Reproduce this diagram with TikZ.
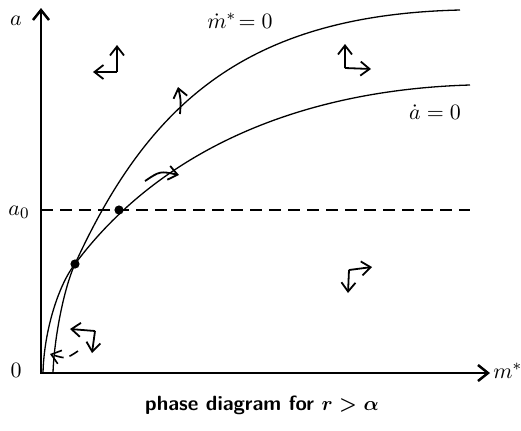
\documentclass[tikz,border=0pt]{standalone}
\usetikzlibrary{arrows.meta}

\begin{document}
\begin{tikzpicture}[
    x=0.5pt,
    y=-0.5pt,
    font=\fontsize{11}{13}\selectfont,
    axis/.style={line width=1.25pt, {Straight Barb[length=5pt,width=8pt]}-{Straight Barb[length=5pt,width=8pt]}},
    curve/.style={line width=0.65pt},
    dashline/.style={line width=1pt, dash pattern=on 6pt off 3.5pt},
    flow/.style={-{Straight Barb[length=4.5pt,width=7pt]}, line width=0.9pt},
    dot/.style={circle, fill, inner sep=0pt, minimum size=4.6pt},
    caption/.style={font=\fontsize{10.3}{12}\selectfont\sffamily\bfseries\boldmath}
]
\useasboundingbox (0,0) rectangle (521,430);

% Axes and the level a_0.
\coordinate (origin) at (41,373);
\coordinate (ytip) at (41,8);
\coordinate (xtip) at (490,373);
\draw[axis] (ytip) -- (origin) -- (xtip);
\draw[dashline] (41,210) -- (470,210);

\node (alabel) at (16,21) {$a$};
\node (zerolabel) at (16,370) {$0$};
\node (azerolabel) at (19,212) {$a_0$};
\node[anchor=west, inner xsep=1pt] (mlabel) at (491,371) {$m^*$};

% The two loci, crossing at the lower steady state.
\draw[curve] (53,373) .. controls (54,340) and (63.5,289) .. (75,264)
    .. controls (150,100) and (250,15) .. (460,10);
\draw[curve] (43,373) .. controls (44,330) and (59,284) .. (75,264)
    .. controls (160,150) and (300,90) .. (470,85);

\node (mdotlabel) at (240,21) {$\dot m^*\! = 0$};
\node (adotlabel) at (435,112) {$\dot a = 0$};

% Steady states.
\node[dot] (eqlow) at (75,264) {};
\node[dot] (eqhigh) at (119,210) {};

% Direction of motion in each region.
\draw[flow] (117,72) -- (93,72);
\draw[flow] (117,72) -- (117,45);
\draw[flow] (345,68) -- (345,44);
\draw[flow] (345,68) -- (371,69);
\draw[flow] (349,270) -- (372,267);
\draw[flow] (349,270) -- (348,293);
\draw[flow] (95,331) -- (70,329);
\draw[flow] (95,331) -- (92,353);

% Motion across the loci.
\draw[flow] (180,114) .. controls (181,100) .. (178,87);
\draw[flow] (145,181) .. controls (160,171) .. (179,175);
\draw[flow, line width=0.8pt, dash pattern=on 5pt off 3pt] (78,351) .. controls (66,359) .. (50,354);

\node[caption] (title) at (262,405) {phase diagram for $r > \alpha$};

\end{tikzpicture}
\end{document}
